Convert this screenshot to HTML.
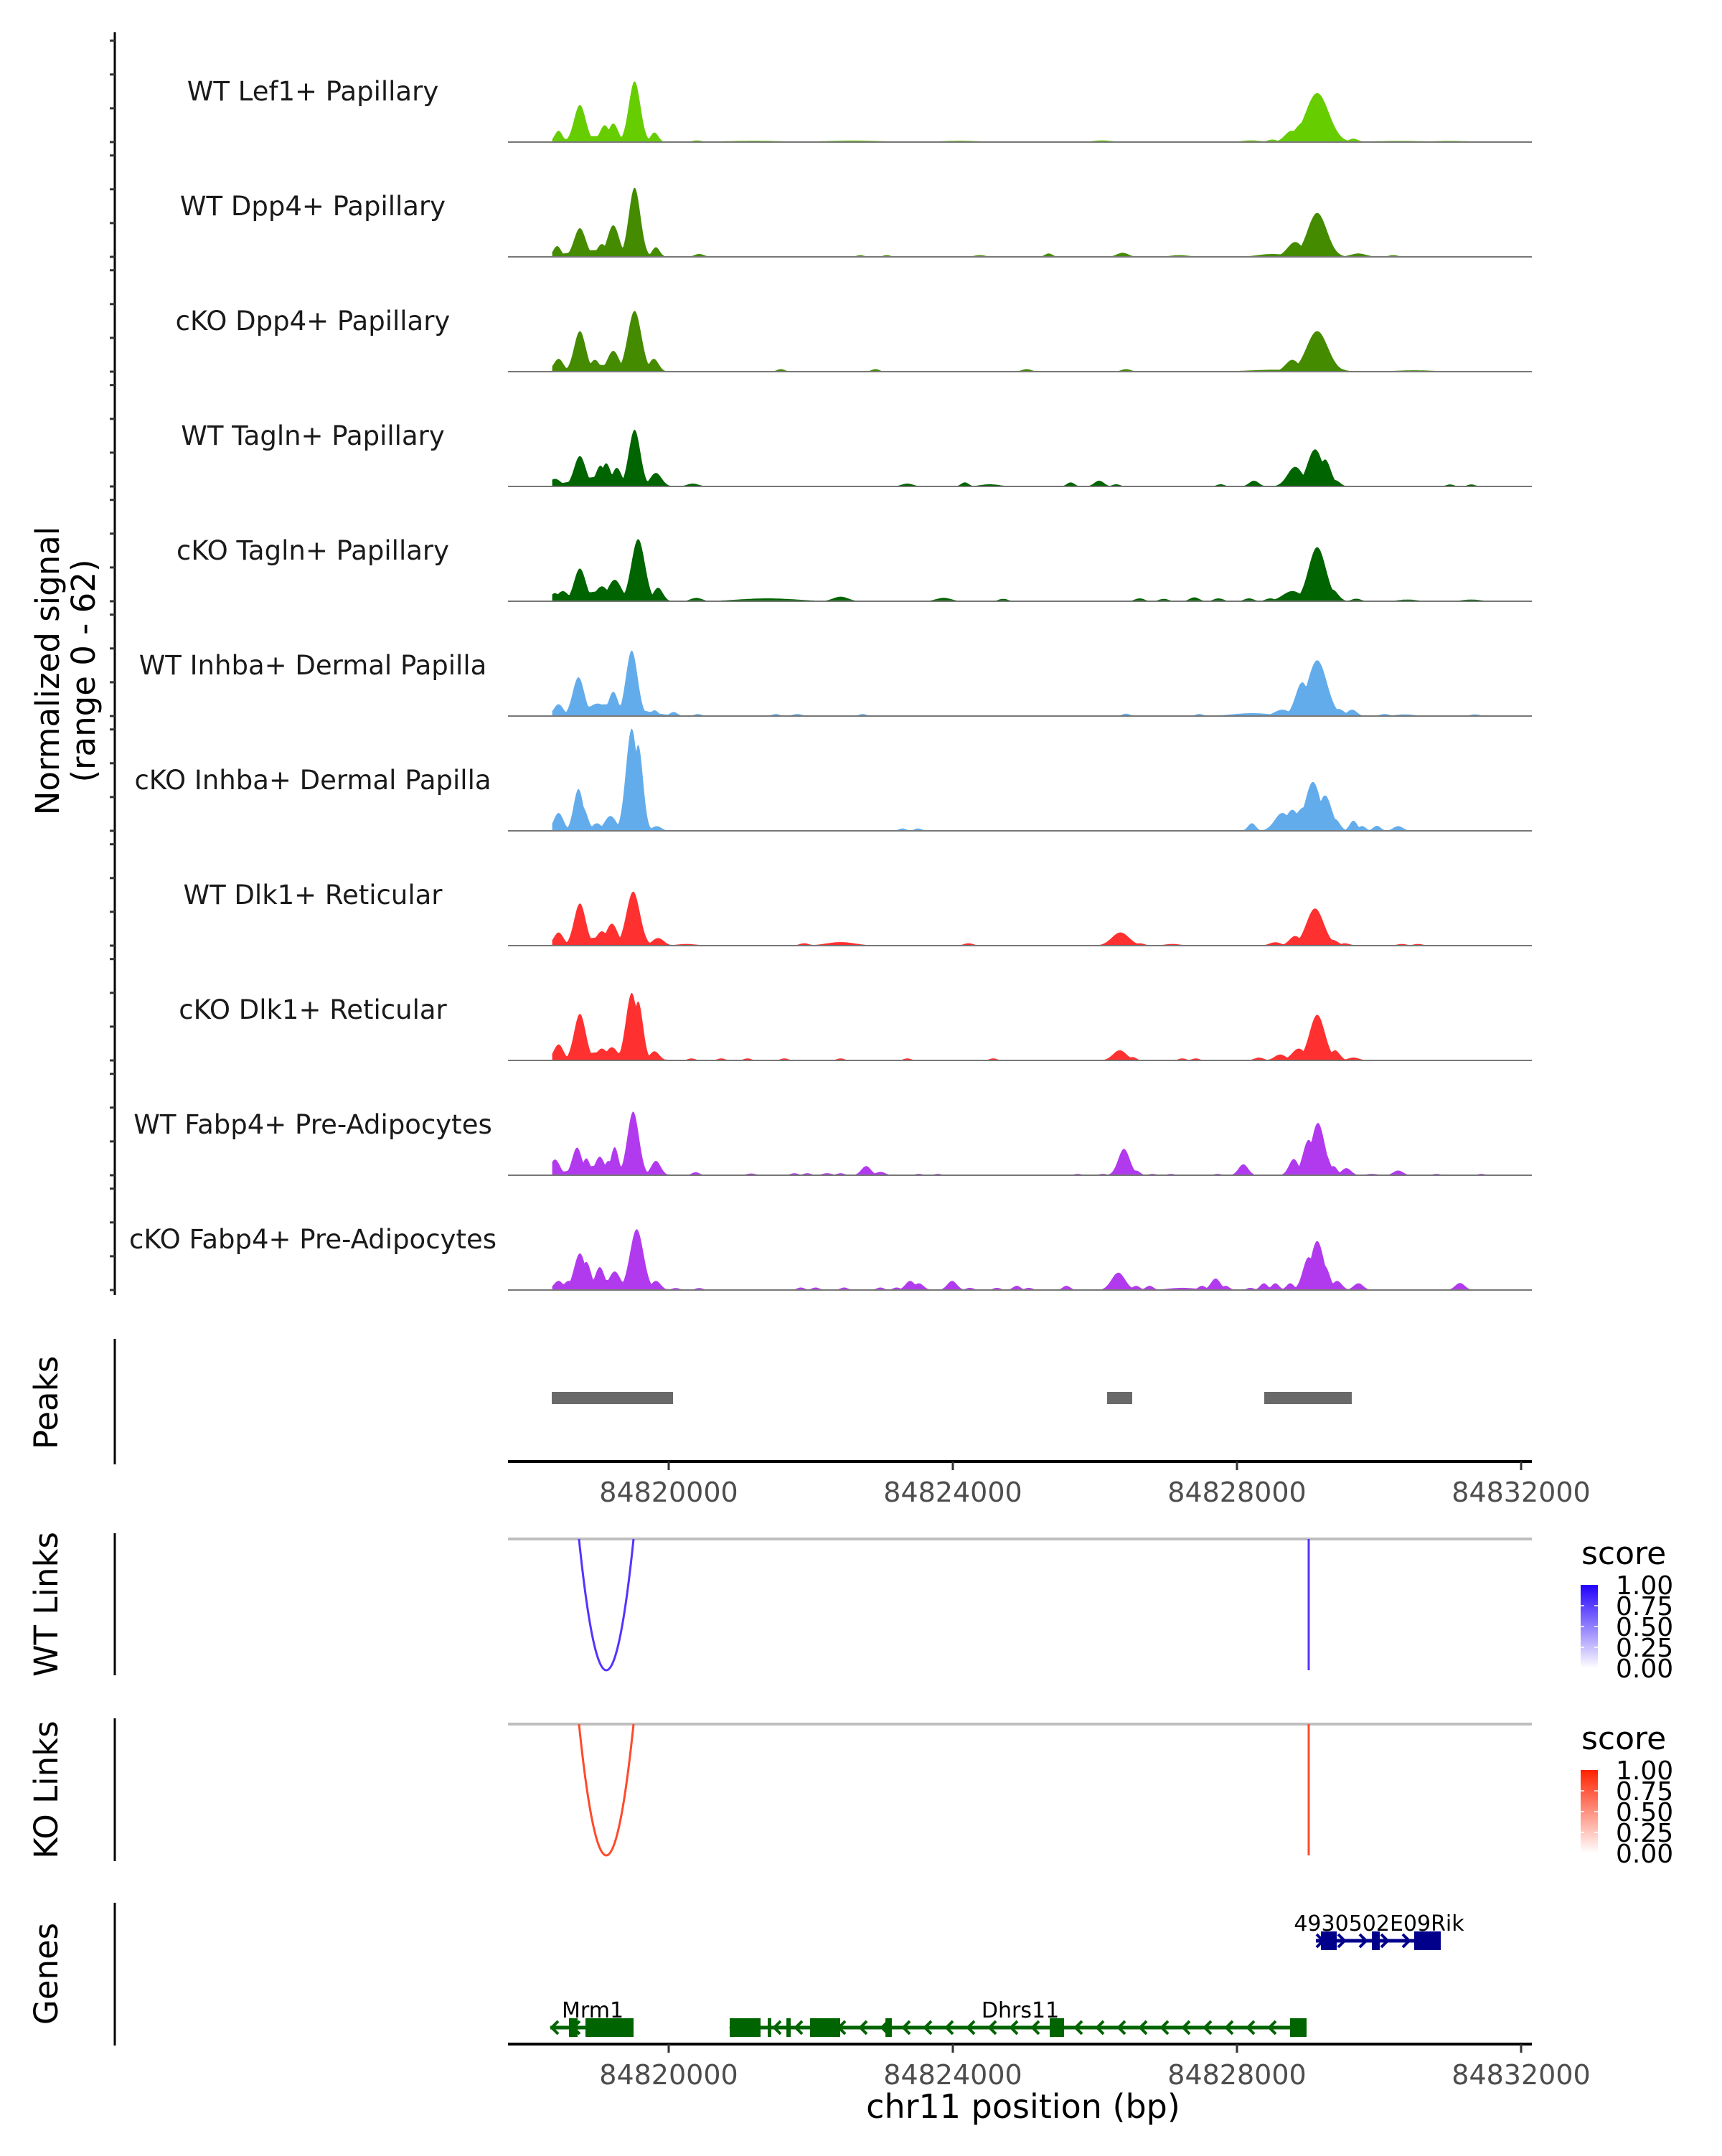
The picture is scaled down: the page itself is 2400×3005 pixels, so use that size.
<!DOCTYPE html>
<html><head><meta charset="utf-8"><style>
html,body{margin:0;padding:0;background:#fff;}
svg text{font-family:"DejaVu Sans","Liberation Sans",sans-serif;}
</style></head><body>
<svg id="chart" xmlns="http://www.w3.org/2000/svg" width="2400" height="3000" viewBox="0 0 2400 3000">
<defs>
<linearGradient id="gBlue" x1="0" y1="1" x2="0" y2="0"><stop offset="0" stop-color="#ffffff"/><stop offset="1" stop-color="#2200ff"/></linearGradient>
<linearGradient id="gRed" x1="0" y1="1" x2="0" y2="0"><stop offset="0" stop-color="#ffffff"/><stop offset="1" stop-color="#ff2200"/></linearGradient>
</defs>
<g id="root"></g>
</svg>
<script>
// ---- data (positions: kb offset from 84820000; heights: normalized signal 0-62; width: sigma kb) ----
const trackNames = ["WT Lef1+ Papillary","WT Dpp4+ Papillary","cKO Dpp4+ Papillary","WT Tagln+ Papillary","cKO Tagln+ Papillary","WT Inhba+ Dermal Papilla","cKO Inhba+ Dermal Papilla","WT Dlk1+ Reticular","cKO Dlk1+ Reticular","WT Fabp4+ Pre-Adipocytes","cKO Fabp4+ Pre-Adipocytes"];
const trackColors = ["#66CD00","#458B00","#458B00","#006400","#006400","#63ACEC","#63ACEC","#FF3030","#FF3030","#B23AEE","#B23AEE"];
const peaksT1 = [[-1.55,6.7,.04],[-1.25,22,.06],[-1.0,3.5,.3],[-0.90,10,.05],[-0.78,11,.05],[-0.48,36,.06],[-0.20,5.7,.04],[0.40,1,.05],[1.2,0.8,.3],[2.6,0.9,.3],[4.1,0.8,.2],[6.1,1,.1],[8.2,1,.1],[8.5,1.5,.05],[8.77,6.7,.07],[8.95,12,.1],[9.13,29,.12],[9.64,2,.05],[10.3,0.7,.3],[11.0,0.7,.2]];
const peaksT2 = [[-1.57,6.4,.04],[-1.25,17,.06],[-1.0,4,.3],[-0.94,7.6,.05],[-0.78,18.7,.06],[-0.48,41,.06],[-0.18,5.7,.04],[0.43,1.7,.05],[2.7,1,.04],[3.07,1,.04],[4.38,1,.06],[5.35,2,.04],[6.39,2.4,.06],[7.19,1,.1],[8.5,1.7,.15],[8.82,8.8,.08],[9.13,26,.1],[9.71,2,.08],[10.2,1,.05]];
const peaksT3 = [[-1.55,7.6,.05],[-1.25,24,.06],[-1.0,4,.3],[-1.04,7,.05],[-0.78,12.3,.06],[-0.48,36,.07],[-0.21,7.6,.05],[1.58,1.5,.04],[2.91,1.5,.04],[5.04,1.5,.05],[6.44,1.5,.05],[8.6,1.2,.3],[8.78,7,.07],[9.13,24,.11],[9.38,2.4,.08],[10.5,0.8,.2]];
const peaksT4 = [[-1.60,4.5,.06],[-1.25,18,.06],[-0.96,12.3,.05],[-0.88,13.7,.05],[-0.73,11,.05],[-0.48,33.6,.06],[-0.9,6,.3],[-0.18,8,.06],[0.34,1.7,.06],[3.36,1.7,.06],[4.17,2.4,.04],[4.52,1.3,.1],[5.66,2.4,.04],[6.06,3.4,.05],[6.30,1.3,.04],[7.77,1.3,.04],[8.24,3.4,.05],[8.82,11.6,.08],[9.10,22,.08],[9.24,16,.06],[9.38,3.8,.05],[11.0,1.2,.04],[11.3,1.2,.04]];
const peaksT5 = [[-1.60,4.8,.05],[-1.49,6,.06],[-1.25,19.4,.06],[-0.94,8.8,.07],[-0.76,12.7,.07],[-0.9,6,.3],[-0.43,36.8,.07],[-0.15,8,.05],[0.39,2,.06],[1.39,1.7,.3],[2.42,2.7,.08],[3.87,2,.08],[4.71,1.4,.05],[6.63,1.7,.05],[6.97,1.4,.05],[7.40,2.3,.05],[7.74,1.7,.05],[8.17,1.7,.05],[8.47,1.7,.05],[8.78,6,.1],[9.13,32,.09],[9.34,7,.06],[9.68,1.5,.05],[10.4,1,.1],[11.3,1,.1]];
const peaksT6 = [[-1.55,7,.05],[-1.27,23,.06],[-1.0,7.4,.1],[-0.85,7,.3],[-0.78,14.4,.05],[-0.52,38.8,.06],[-0.20,3.4,.04],[0.07,2.4,.04],[0.41,1.2,.04],[1.51,1.2,.04],[1.81,1.2,.05],[2.73,1.2,.04],[6.44,1.4,.04],[7.47,1.2,.04],[8.21,1.7,.2],[8.64,3.8,.08],[8.92,20,.07],[9.13,33,.1],[9.43,4.2,.06],[9.62,3.8,.05],[10.08,1.2,.05],[10.36,1,.1],[11.35,1,.05]];
const peaksT7 = [[-1.55,10.6,.05],[-1.27,24.8,.05],[-1.21,14,.05],[-1.01,4.5,.05],[-0.82,8.8,.06],[-0.52,60.6,.06],[-0.43,51,.05],[-0.17,2.8,.05],[3.29,1.4,.04],[3.51,1.4,.04],[8.21,4.5,.04],[8.64,10.6,.08],[8.78,12.5,.07],[8.95,14,.1],[9.07,29,.08],[9.24,21,.07],[9.38,7,.05],[9.64,6,.04],[9.76,2.8,.04],[9.97,3,.04],[10.27,2.8,.05]];
const peaksT8 = [[-1.55,7.8,.05],[-1.25,25,.06],[-0.94,8.5,.06],[-0.80,13,.06],[-0.9,5,.3],[-0.50,32,.07],[-0.15,4.5,.06],[0.25,1,.1],[1.91,1.4,.05],[2.42,2.1,.15],[4.22,1.4,.05],[6.36,7.8,.09],[6.63,1.4,.05],[7.09,1,.08],[8.54,2,.06],[8.82,5.7,.06],[9.10,22,.09],[9.34,3.5,.06],[9.52,1.4,.05],[10.32,1,.05],[10.55,1,.05]];
const peaksT9 = [[-1.55,9.5,.05],[-1.25,27.6,.06],[-0.94,7,.06],[-0.80,7.8,.06],[-0.9,5,.3],[-0.52,40,.06],[-0.43,35,.05],[-0.20,5.4,.05],[0.32,1.2,.04],[0.74,1.2,.04],[1.11,1.2,.04],[1.63,1.2,.04],[2.42,1.2,.04],[3.36,1.2,.04],[4.57,1.2,.04],[6.35,6,.07],[6.53,2,.04],[7.23,1.2,.04],[7.42,1.2,.04],[8.31,1.7,.05],[8.61,3.5,.06],[8.87,7,.07],[9.13,27,.08],[9.38,6,.05],[9.64,1.7,.06]];
const peaksT10 = [[-1.60,9.3,.05],[-1.29,16.4,.05],[-1.16,10,.04],[-0.97,11,.05],[-0.85,8.5,.04],[-0.76,16.7,.04],[-0.9,6,.3],[-0.50,37.7,.06],[-0.18,8.5,.05],[0.38,1.8,.04],[1.16,1,.05],[1.77,1.2,.04],[1.95,1.2,.04],[2.23,1.2,.05],[2.42,1.2,.04],[2.78,5.4,.05],[2.98,2,.05],[3.52,0.8,.04],[3.79,0.8,.04],[5.76,0.8,.04],[6.11,0.8,.04],[6.41,15.6,.06],[6.58,2.8,.04],[6.81,0.8,.04],[7.07,0.8,.04],[7.73,0.8,.04],[8.09,6.5,.05],[8.80,9.6,.05],[9.01,21,.06],[9.14,31,.07],[9.24,13,.05],[9.36,5.4,.04],[9.54,4.2,.05],[9.90,0.8,.06],[10.27,2.8,.05],[10.81,0.8,.04],[11.44,0.8,.04]];
const peaksT11 = [[-1.55,5.4,.05],[-1.41,5.4,.05],[-1.25,21.7,.06],[-1.16,16.7,.05],[-0.97,13.6,.05],[-0.76,11,.06],[-0.9,6,.3],[-0.45,36,.07],[-0.18,5.4,.05],[0.10,1.2,.04],[0.43,1.2,.04],[1.86,1.5,.04],[2.07,1.5,.04],[2.47,1.5,.04],[2.98,1.5,.04],[3.21,1.5,.04],[3.40,5.4,.05],[3.52,4,.05],[3.99,5.4,.05],[4.24,1.3,.04],[4.62,1.3,.04],[4.90,2.5,.04],[5.07,1.3,.04],[5.60,2.5,.04],[6.33,10.3,.07],[6.58,2.5,.04],[6.77,2.5,.04],[7.23,1.3,.15],[7.51,2.5,.04],[7.70,6.8,.05],[7.84,2.5,.04],[8.19,1.3,.04],[8.38,4,.04],[8.54,4,.04],[8.75,4,.04],[9.01,19.5,.06],[9.13,29,.07],[9.24,14,.05],[9.41,5.4,.05],[9.71,4,.05],[11.14,4.2,.05]];
const allPeaks = [peaksT1,peaksT2,peaksT3,peaksT4,peaksT5,peaksT6,peaksT7,peaksT8,peaksT9,peaksT10,peaksT11];
const covStart = -1.64, covEnd = 11.5;
const peakRegions = [[-1.646,0.061],[6.172,6.525],[8.384,9.616]];
const linkArcs = [[-1.263,-0.495],[9.010,9.010]];
const linkScores = [0.8,0.8];
const mrm1Line = [-1.667,-0.495];
const mrm1Exons = [[-1.404,-1.283],[-1.172,-0.495]];
const dhrs11Line = [0.859,8.980];
const dhrs11Exons = [[0.859,1.293],[1.394,1.444],[1.657,1.717],[1.990,2.414],[3.051,3.141],[5.364,5.566],[8.747,8.980]];
const rikLine = [9.111,10.869];
const rikExons = [[9.182,9.404],[9.899,10.010],[10.495,10.869]];
const xTicks = [0,4,8,12];
const xTickLabels = ["84820000","84824000","84828000","84832000"];
const yTicks = [0,20,40,60];
const legendLabels = ["1.00","0.75","0.50","0.25","0.00"];

// ---- scales ----
const PX0 = 708, PX1 = 2135;
const xS = kb => 932 + kb*99;
const yMax = 62, trackH = 146;
const baseY = i => 198 + 160*i;
const yS = (i,v) => baseY(i) - v/yMax*trackH;
const WF = 1.35; // peak width factor

const NS = "http://www.w3.org/2000/svg";
const root = document.getElementById("root");
function mk(tag, attrs, parent){ const e=document.createElementNS(NS,tag); for(const k in attrs) e.setAttribute(k,attrs[k]); (parent||root).appendChild(e); return e; }
function txt(s, attrs, parent){ const e=mk("text",attrs,parent); e.textContent=s; return e; }

let el = mk("line",{x1:160,y1:45,x2:160,y2:1805,stroke:"#000","stroke-width":3});


for(let i=0;i<11;i++){
  for(const t of yTicks){
    const tk = mk("line",{x1:153,x2:160,y1:yS(i,t),y2:yS(i,t),stroke:"#333","stroke-width":3});
    
    
  }
}
el = txt("Normalized signal",{x:0,y:0,"font-size":45,"text-anchor":"middle",transform:"translate(82,935) rotate(-90)",fill:"#000"});


el = txt("(range 0 - 62)",{x:0,y:0,"font-size":45,"text-anchor":"middle",transform:"translate(132,935) rotate(-90)",fill:"#000"});



for(let i=0;i<11;i++){
  const g = mk("g",{});
  
  
  const pk = allPeaks[i];
  let d = "M"+xS(covStart)+","+baseY(i);
  for(let px=xS(covStart); px<=xS(covEnd); px+=1.5){
    const kb=(px-932)/99;
    let v=0;
    for(const p of pk){ const dd=(kb-p[0])/(p[2]*WF); const w=p[1]*Math.exp(-0.5*dd*dd); if(w>v) v=w; }
    if(v<0.35) v=0;
    d += "L"+px.toFixed(1)+","+yS(i,v).toFixed(1);
  }
  d += "L"+xS(covEnd)+","+baseY(i)+"Z";
  const a = mk("path",{d:d,fill:trackColors[i]},g);
  
  
  const b = mk("line",{x1:PX0,x2:PX1,y1:baseY(i),y2:baseY(i),stroke:"#777","stroke-width":2},g);
  
  
  const l = txt(trackNames[i],{x:436,y:baseY(i)-58,"font-size":37,"text-anchor":"middle",fill:"#1a1a1a"},g);
  
  
}

el = mk("line",{x1:160,y1:1866,x2:160,y2:2041,stroke:"#000","stroke-width":3});


el = txt("Peaks",{x:0,y:0,"font-size":45,"text-anchor":"middle",transform:"translate(80,1955) rotate(-90)"});


for(const r of peakRegions){
  const p = mk("rect",{x:xS(r[0]),y:1940,width:xS(r[1])-xS(r[0]),height:17,fill:"#696969"});
  
  
}
function xAxis(y, nm){
  const a = mk("line",{x1:PX0,x2:PX1,y1:y,y2:y,stroke:"#000","stroke-width":4});
  
  
  xTicks.forEach((t,k)=>{
    const tk = mk("line",{x1:xS(t),x2:xS(t),y1:y,y2:y+12,stroke:"#333","stroke-width":3});
    
    
    const tl = txt(xTickLabels[k],{x:xS(t),y:y+56,"font-size":38,"text-anchor":"middle",fill:"#4d4d4d"});
    
    
  });
}
xAxis(2037,'peaks-x-axis');

function links(top, bottom, axTop, axBot, title, color, grad, nm){
  const ax = mk("line",{x1:160,y1:axTop,x2:160,y2:axBot,stroke:"#000","stroke-width":3});
  
  
  const t = txt(title,{x:0,y:0,"font-size":45,"text-anchor":"middle",transform:"translate(80,"+((axTop+axBot)/2)+") rotate(-90)"});
  
  
  const gl = mk("line",{x1:PX0,x2:PX1,y1:top,y2:top,stroke:"#bebebe","stroke-width":4});
  
  
  linkArcs.forEach((l,k)=>{
    const x1=xS(l[0]), x2=xS(l[1]);
    const depth=(bottom-top)*linkScores[k]/0.8;
    let p;
    if(Math.abs(x2-x1)<1) p = mk("line",{x1:x1,x2:x1,y1:top,y2:top+depth,stroke:color,"stroke-width":3});
    else p = mk("path",{d:"M"+x1+","+top+" Q"+((x1+x2)/2)+","+(top+depth*2)+" "+x2+","+top,fill:"none",stroke:color,"stroke-width":3});
    
    
  });
  const lt = top+35;
  const s = txt("score",{x:2204,y:lt,"font-size":44});
  
  
  const bar = mk("rect",{x:2203,y:lt+29,width:24,height:116,fill:"url(#"+grad+")"});
  
  
  legendLabels.forEach((lab,k)=>{
    const yy = lt+29+k*29;
    if(k>0&&k<4){ mk("line",{x1:2203,x2:2208,y1:yy,y2:yy,stroke:"#fff","stroke-width":1.5}); mk("line",{x1:2222,x2:2227,y1:yy,y2:yy,stroke:"#fff","stroke-width":1.5}); }
    const tl = txt(lab,{x:2252,y:yy+13,"font-size":36});
    
    
  });
}
links(2145,2328,2137,2335,"WT Links","#5533FF","gBlue","wt-links");
links(2403,2586,2395,2594,"KO Links","#FF4A2A","gRed","ko-links");

el = mk("line",{x1:160,y1:2652,x2:160,y2:2851,stroke:"#000","stroke-width":3});


el = txt("Genes",{x:0,y:0,"font-size":45,"text-anchor":"middle",transform:"translate(80,2751) rotate(-90)"});


function gene(name, line, exons, y, color, dir, labelX, nm){
  const g = mk("g",{});
  
  
  mk("line",{x1:xS(line[0]),x2:xS(line[1]),y1:y,y2:y,stroke:color,"stroke-width":5},g);
  for(let x=xS(line[0])+6; x<xS(line[1])-4; x+=30){
    mk("polyline",{points:(x+dir*-5)+","+(y-9)+" "+(x+dir*4)+","+y+" "+(x+dir*-5)+","+(y+9),fill:"none",stroke:color,"stroke-width":4},g);
  }
  for(const e of exons){
    const r = mk("rect",{x:xS(e[0]),y:y-13,width:Math.max(4,xS(e[1])-xS(e[0])),height:26,fill:color},g);
    
    
  }
  const t = txt(name,{x:labelX,y:y-14,"font-size":30,"text-anchor":"middle",fill:"#000"},g);
  
  
}
gene("Mrm1",mrm1Line,mrm1Exons,2826,"#006400",-1,xS(-1.07),"gene-mrm1");
gene("Dhrs11",dhrs11Line,dhrs11Exons,2826,"#006400",-1,xS(4.95),"gene-dhrs11");
gene("4930502E09Rik",rikLine,rikExons,2705,"#00008B",1,xS(10.0),"gene-4930502e09rik");
xAxis(2849,'genes-x-axis');
el = txt("chr11 position (bp)",{x:1426,y:2952,"font-size":46,"text-anchor":"middle"});


</script>
</body></html>
